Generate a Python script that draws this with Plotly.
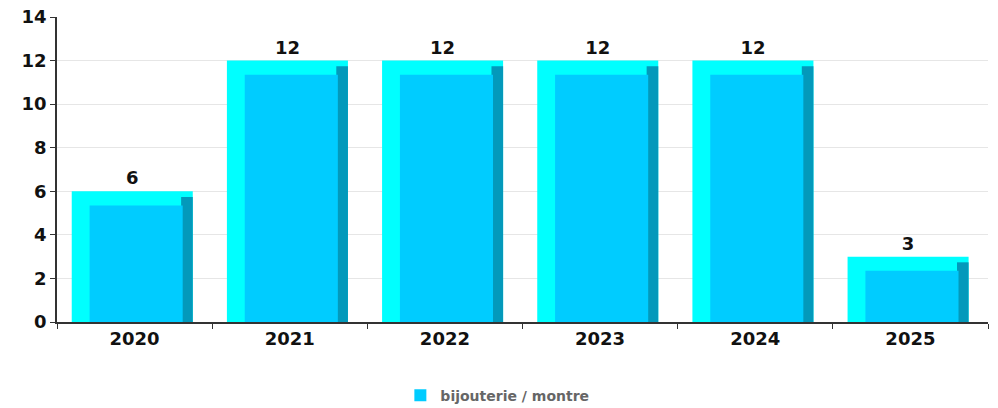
import plotly.graph_objects as go

categories = ["2020", "2021", "2022", "2023", "2024", "2025"]
values = [6, 12, 12, 12, 12, 3]
series_name = "bijouterie / montre"

CAP = 0.65
face_tops = [v - CAP for v in values]
side_tops = [v - CAP * 0.4 for v in values]

fig = go.Figure()
# outer cyan body (left strip + top cap), carries labels
fig.add_trace(go.Bar(
    x=categories, y=values, width=0.78, offset=-0.405,
    marker=dict(color="#00FFFF", line=dict(width=0)),
    text=[str(v) for v in values], textposition="outside",
    textfont=dict(family="DejaVu Sans", size=18, color="#111111", weight="bold"),
    cliponaxis=False, showlegend=False, hoverinfo="skip",
))
# dark right side
fig.add_trace(go.Bar(
    x=categories, y=side_tops, width=0.075, offset=0.30,
    marker=dict(color="#0399BB", line=dict(width=0)),
    showlegend=False, hoverinfo="skip",
))
# main face
fig.add_trace(go.Bar(
    x=categories, y=face_tops, width=0.60, offset=-0.29,
    marker=dict(color="#00CCFF", line=dict(width=0)),
    name=series_name, showlegend=True,
))

fig.update_layout(
    width=998, height=408,
    margin=dict(l=57, r=10, t=17, b=86, autoexpand=False),
    barmode="overlay",
    plot_bgcolor="white", paper_bgcolor="white",
    font=dict(family="DejaVu Sans", color="#111111"),
    showlegend=True,
    legend=dict(orientation="h", x=0.473, xanchor="center", yref="container", y=0.03, yanchor="middle",
                font=dict(family="DejaVu Sans", size=14, color="#666666", weight="bold"),
                itemwidth=30),
    xaxis=dict(
        type="category", range=[-0.5, 5.5],
        showline=True, linecolor="#333333", linewidth=1.5,
        ticks="outside", tickson="boundaries", ticklen=5, tickcolor="#333333",
        tickfont=dict(family="DejaVu Sans", size=18, color="#111111", weight="bold"),
        showgrid=False, automargin=False,
    ),
    yaxis=dict(
        range=[0, 14], dtick=2,
        showline=True, linecolor="#333333", linewidth=1.5,
        ticks="outside", ticklen=5, tickcolor="#333333",
        tickfont=dict(family="DejaVu Sans", size=18, color="#111111", weight="bold"),
        showgrid=True, gridcolor="#e6e6e6", gridwidth=1,
        zeroline=False, automargin=False,
    ),
)

fig.write_html("out.html", config={"displayModeBar": False},
               post_script="document.body.style.margin='0';")
